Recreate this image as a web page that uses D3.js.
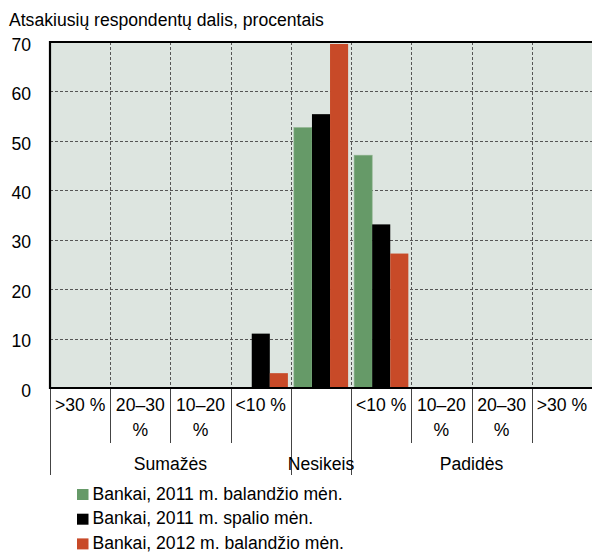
<!DOCTYPE html>
<html>
<head>
<meta charset="utf-8">
<script src="https://cdn.jsdelivr.net/npm/d3@7"></script>
<style>
  html, body { margin: 0; padding: 0; background: #fff; }
  svg { display: block; font-family: "Liberation Sans", Arial, sans-serif; }
</style>
</head>
<body>
<svg id="chart" width="592" height="553"></svg>
<script>
// Expectation categories (change size buckets) along the x axis
const categories = [">30 %", "20–30 %", "10–20 %", "<10 %", "", "<10 %", "10–20 %", "20–30 %", ">30 %"];
// Group labels under the buckets and the bucket index range they span
const groupLabels = ["Sumažės", "Nesikeis", "Padidės"];
const groupFirst = [0, 4, 5];
const groupLast = [3, 4, 8];

// Survey rounds
const seriesNames = [
  "Bankai, 2011 m. balandžio mėn.",
  "Bankai, 2011 m. spalio mėn.",
  "Bankai, 2012 m. balandžio mėn."
];
const apr2011 = [0, 0, 0, 0, 52.7, 47.1, 0, 0, 0];
const oct2011 = [0, 0, 0, 11.0, 55.4, 33.1, 0, 0, 0];
const apr2012 = [0, 0, 0, 3.0, 69.6, 27.2, 0, 0, 0];
const seriesValues = [apr2011, oct2011, apr2012];
const seriesColors = ["#669a68", "#000000", "#c84a28"];

const yTicks = [0, 10, 20, 30, 40, 50, 60, 70];
const yTitle = "Atsakiusių respondentų dalis, procentais";

const FS = 17.6;
const svg = d3.select("#chart");
const plotL = 50, plotR = 592, plotT = 42, plotB = 388;

const x = d3.scaleBand().domain(d3.range(categories.length)).range([plotL, plotR]);
const bw = x.bandwidth();
const xs = d3.scaleBand().domain(d3.range(seriesNames.length)).range([3, bw - 3]);
const y = d3.scaleLinear().domain([0, 70]).range([plotB, plotT]);

// Plot background
svg.append("rect")
  .attr("x", plotL).attr("y", plotT)
  .attr("width", plotR - plotL).attr("height", plotB - plotT)
  .attr("fill", "#dde5e0");

// Dashed grid
const grid = svg.append("g")
  .attr("stroke", "#555")
  .attr("stroke-width", 1)
  .attr("stroke-dasharray", "3,2");
grid.selectAll("line.h")
  .data(yTicks.filter(d => d > 0 && d < 70))
  .join("line")
  .attr("x1", plotL).attr("x2", plotR)
  .attr("y1", d => Math.round(y(d)) + 0.5)
  .attr("y2", d => Math.round(y(d)) + 0.5);
grid.selectAll("line.v")
  .data(d3.range(1, categories.length))
  .join("line")
  .attr("y1", plotT).attr("y2", plotB)
  .attr("x1", d => Math.round(x(d)) + 0.5)
  .attr("x2", d => Math.round(x(d)) + 0.5);

// Bars
seriesValues.forEach((vals, si) => {
  svg.append("g")
    .selectAll("rect")
    .data(vals.map((v, i) => ({ i, v })).filter(d => d.v > 0))
    .join("rect")
    .attr("x", d => x(d.i) + xs(si))
    .attr("width", xs.bandwidth())
    .attr("y", d => y(d.v))
    .attr("height", d => y(0) - y(d.v))
    .attr("fill", seriesColors[si])
    .attr("stroke", si === 0 ? "#8fb48f" : "none")
    .attr("stroke-width", 0.6);
});

// Frame: top, left and baseline
const frame = svg.append("g").attr("stroke", "#000").attr("stroke-width", 2.2);
frame.append("line").attr("x1", plotL).attr("x2", plotR).attr("y1", plotT).attr("y2", plotT);
frame.append("line").attr("x1", plotL).attr("x2", plotL).attr("y1", plotT - 1.1).attr("y2", plotB + 1.1);
frame.append("line").attr("x1", plotL).attr("x2", plotR).attr("y1", plotB).attr("y2", plotB);

// Y tick labels
svg.append("g")
  .selectAll("text")
  .data(yTicks)
  .join("text")
  .attr("x", 31)
  .attr("y", d => y(d) + 8.7)
  .attr("text-anchor", "end")
  .attr("font-size", FS)
  .attr("fill", "#000")
  .text(d => d);

// Title above the y axis
svg.append("text")
  .attr("x", 9).attr("y", 26)
  .attr("font-size", FS)
  .attr("fill", "#000")
  .text(yTitle);

// Separators under the axis
const longSep = new Set([0, 4, 5]);
svg.append("g")
  .attr("stroke", "#444")
  .attr("stroke-width", 1)
  .selectAll("line")
  .data(d3.range(0, categories.length))
  .join("line")
  .attr("x1", d => Math.round(x(d)) + 0.5)
  .attr("x2", d => Math.round(x(d)) + 0.5)
  .attr("y1", plotB + 1)
  .attr("y2", d => longSep.has(d) ? 475 : 443);

// Bucket labels, wrapped to the band width
const catText = svg.append("g")
  .selectAll("text")
  .data(categories)
  .join("text")
  .attr("text-anchor", "middle")
  .attr("font-size", FS)
  .attr("fill", "#000")
  .attr("y", 411);
catText.each(function (d, i) {
  const t = d3.select(this);
  const cx = x(i) + bw / 2;
  t.text(d).attr("x", cx);
  if (d && this.getComputedTextLength() > bw - 4) {
    const words = d.split(" ");
    const last = words.pop();
    t.text(null);
    t.append("tspan").attr("x", cx).attr("dy", 0).text(words.join(" "));
    t.append("tspan").attr("x", cx).attr("dy", 25).text(last);
  }
});

// Group labels
svg.append("g")
  .selectAll("text")
  .data(groupLabels)
  .join("text")
  .attr("x", (d, i) => (x(groupFirst[i]) + x(groupLast[i]) + bw) / 2)
  .attr("y", 470)
  .attr("text-anchor", "middle")
  .attr("font-size", FS)
  .attr("fill", "#000")
  .text(d => d);

// Legend
const legend = svg.append("g")
  .selectAll("g")
  .data(seriesNames)
  .join("g")
  .attr("transform", (d, i) => `translate(77, ${489 + i * 24.7})`);
legend.append("rect")
  .attr("width", 11.5).attr("height", 11)
  .attr("fill", (d, i) => seriesColors[i]);
legend.append("text")
  .attr("x", 15.5).attr("y", 10.7)
  .attr("font-size", FS)
  .attr("fill", "#000")
  .text(d => d);
</script>
</body>
</html>
